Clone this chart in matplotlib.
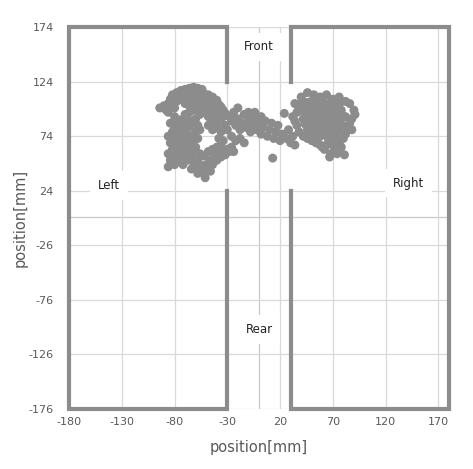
import numpy as np
import matplotlib.pyplot as plt

plt.rcParams['axes.unicode_minus'] = False

# axis ticks (Excel style, major unit 50)
x_ticks = [-180, -130, -80, -30, 20, 70, 120, 170]
y_ticks = [-176, -126, -76, -26, 24, 74, 124, 174]

# walls of the two side compartments (x, y polylines)
wall_left_x = [-30, -30, -180, -180, -30, -30]
wall_left_y = [124, 174, 174, -176, -176, 24]
wall_right_x = [30, 30, 180, 180, 30, 30]
wall_right_y = [124, 174, 174, -176, -176, 24]

# region labels
labels = ['Front', 'Rear', 'Left', 'Right']
label_x = [0, 0, -142, 142]
label_y = [156, -103, 29, 31]

# measured positions [mm]
left_pts = [
    (-94, 100), (-90, 102), (-88, 98), (-86, 104), (-84, 108), (-82, 112), (-80, 110), (-78, 114),
    (-76, 112), (-74, 116), (-72, 113), (-70, 117), (-68, 114), (-66, 118), (-64, 115), (-62, 119),
    (-60, 116), (-58, 118), (-56, 114), (-54, 117), (-52, 113), (-50, 110), (-48, 112), (-46, 108),
    (-44, 110), (-42, 105), (-40, 107), (-38, 103), (-36, 101), (-34, 98), (-32, 95),
    (-86, 96), (-82, 104), (-80, 100), (-78, 106), (-74, 108), (-70, 104), (-68, 108), (-66, 102),
    (-64, 109), (-62, 104), (-60, 110), (-58, 106), (-56, 108), (-54, 102), (-52, 105), (-50, 100),
    (-48, 104), (-46, 98), (-44, 101), (-42, 96), (-40, 93), (-38, 96), (-36, 90), (-34, 92),
    (-80, 92), (-70, 94), (-75, 89), (-66, 96), (-62, 98), (-58, 100), (-56, 94), (-52, 96),
    (-48, 92), (-44, 88), (-40, 86),
    (-84, 86), (-80, 84), (-76, 86), (-72, 88), (-68, 90), (-64, 88), (-60, 90),
    (-82, 78), (-78, 80), (-74, 82), (-70, 80), (-66, 84), (-62, 82), (-58, 84),
    (-86, 74), (-80, 74), (-76, 76), (-72, 72), (-68, 76), (-64, 74), (-60, 78), (-56, 80),
    (-84, 68), (-78, 68), (-74, 66), (-70, 70), (-66, 68), (-62, 70), (-58, 72),
    (-82, 62), (-76, 62), (-72, 60), (-68, 64), (-64, 62), (-60, 64),
    (-48, 84), (-44, 80), (-40, 82), (-36, 78), (-32, 84), (-30, 80), (-38, 72), (-34, 70),
    (-86, 58), (-84, 52), (-86, 46), (-80, 56), (-80, 48), (-78, 52), (-76, 58), (-74, 54),
    (-72, 48), (-70, 56), (-68, 52), (-66, 58), (-64, 54), (-62, 50), (-60, 46), (-58, 52),
    (-56, 48), (-54, 44), (-52, 40), (-51, 36), (-50, 48), (-48, 44), (-46, 52), (-44, 48),
    (-42, 55), (-40, 52), (-38, 58), (-36, 55), (-34, 60), (-32, 57), (-30, 62), (-28, 60),
    (-26, 64), (-24, 60), (-56, 58), (-52, 56), (-48, 60), (-44, 62), (-40, 64), (-36, 66),
    (-60, 60), (-64, 44), (-58, 40), (-46, 42),
]
mid_pts = [
    (-28, 92), (-26, 88), (-24, 96), (-22, 84), (-20, 90), (-18, 80), (-16, 86), (-14, 94),
    (-12, 82), (-10, 88), (-8, 78), (-6, 84), (-4, 90), (-2, 80), (0, 86), (2, 76), (4, 82),
    (6, 88), (8, 74), (10, 80), (12, 86), (14, 72), (16, 78), (18, 84), (20, 70), (22, 76),
    (24, 95), (26, 72), (28, 80), (30, 68), (32, 74), (34, 66), (13, 54),
    (-26, 74), (-22, 70), (-18, 72), (-14, 68), (-20, 100), (-10, 96), (-6, 92), (2, 92), (-4, 96),
]
right_pts = [
    (46, 114), (40, 110), (52, 112), (58, 110), (64, 112), (70, 108), (76, 110), (82, 106),
    (86, 104), (90, 98), (91, 94), (88, 90), (86, 86), (84, 82), (88, 80), (82, 76), (80, 72),
    (76, 68), (78, 64), (72, 62), (68, 58), (67, 55), (81, 57), (74, 58), (62, 62), (58, 66),
    (54, 68), (50, 70), (46, 72), (42, 74), (38, 78), (36, 84), (34, 88), (32, 92), (36, 96),
    (38, 100), (34, 104), (40, 104), (60, 64), (64, 66), (70, 66),
    (42, 106), (47, 105), (51, 107), (56, 106), (61, 105), (66, 104), (71, 102), (76, 103),
    (43, 100), (48, 101), (53, 100), (57, 102), (62, 100), (67, 99), (72, 97), (78, 98),
    (44, 95), (49, 96), (54, 95), (59, 96), (64, 94), (69, 95), (74, 92), (79, 93),
    (42, 90), (47, 91), (52, 90), (57, 91), (62, 89), (67, 90), (72, 88), (77, 88), (82, 92),
    (44, 85), (49, 86), (54, 84), (59, 86), (64, 84), (69, 85), (74, 83), (79, 84),
    (46, 80), (51, 80), (56, 79), (61, 81), (66, 79), (71, 78), (76, 79),
    (48, 75), (53, 76), (58, 74), (63, 75), (68, 73), (73, 74),
    (55, 70), (66, 70), (72, 69),
]
pts = np.array(left_pts + mid_pts + right_pts, dtype=float)

grey = '#8c8c8c'
grid_c = '#d9d9d9'
text_c = '#595959'

fig = plt.figure(figsize=(4.73, 4.69), dpi=100)
ax = fig.add_axes([0.146, 0.128, 0.803, 0.814])

ax.set_xlim(-180, 180)
ax.set_ylim(-176, 174)
ax.set_xticks(x_ticks)
ax.set_yticks(y_ticks)
ax.grid(True, color=grid_c, linewidth=0.9, zorder=0)
ax.set_axisbelow(True)
ax.axvline(0, color='#c8c8c8', linewidth=0.9, zorder=0.5)
ax.axhline(0, color='#c8c8c8', linewidth=0.9, zorder=0.5)
for s in ax.spines.values():
    s.set_visible(False)
ax.tick_params(length=0, labelsize=8, labelcolor=text_c)
ax.tick_params(axis='y', pad=11)
ax.tick_params(axis='x', pad=6)

ax.scatter(pts[:, 0], pts[:, 1], s=42, color=grey, edgecolors='none', zorder=3)

ax.plot(wall_left_x, wall_left_y, color=grey, linewidth=3.0, clip_on=False, zorder=4,
        solid_joinstyle='miter')
ax.plot(wall_right_x, wall_right_y, color=grey, linewidth=3.0, clip_on=False, zorder=4,
        solid_joinstyle='miter')

for t, x, y in zip(labels, label_x, label_y):
    ax.text(x, y, t, ha='center', va='center', fontsize=8.5, color='#222222', zorder=2,
            bbox=dict(boxstyle='square,pad=0.65', facecolor='white', edgecolor='none'))

ax.set_xlabel('position[mm]', fontsize=10.5, color=text_c, labelpad=9)
ax.set_ylabel('position[mm]', fontsize=10.5, color=text_c, labelpad=1)

plt.savefig('out.png', dpi=100)
